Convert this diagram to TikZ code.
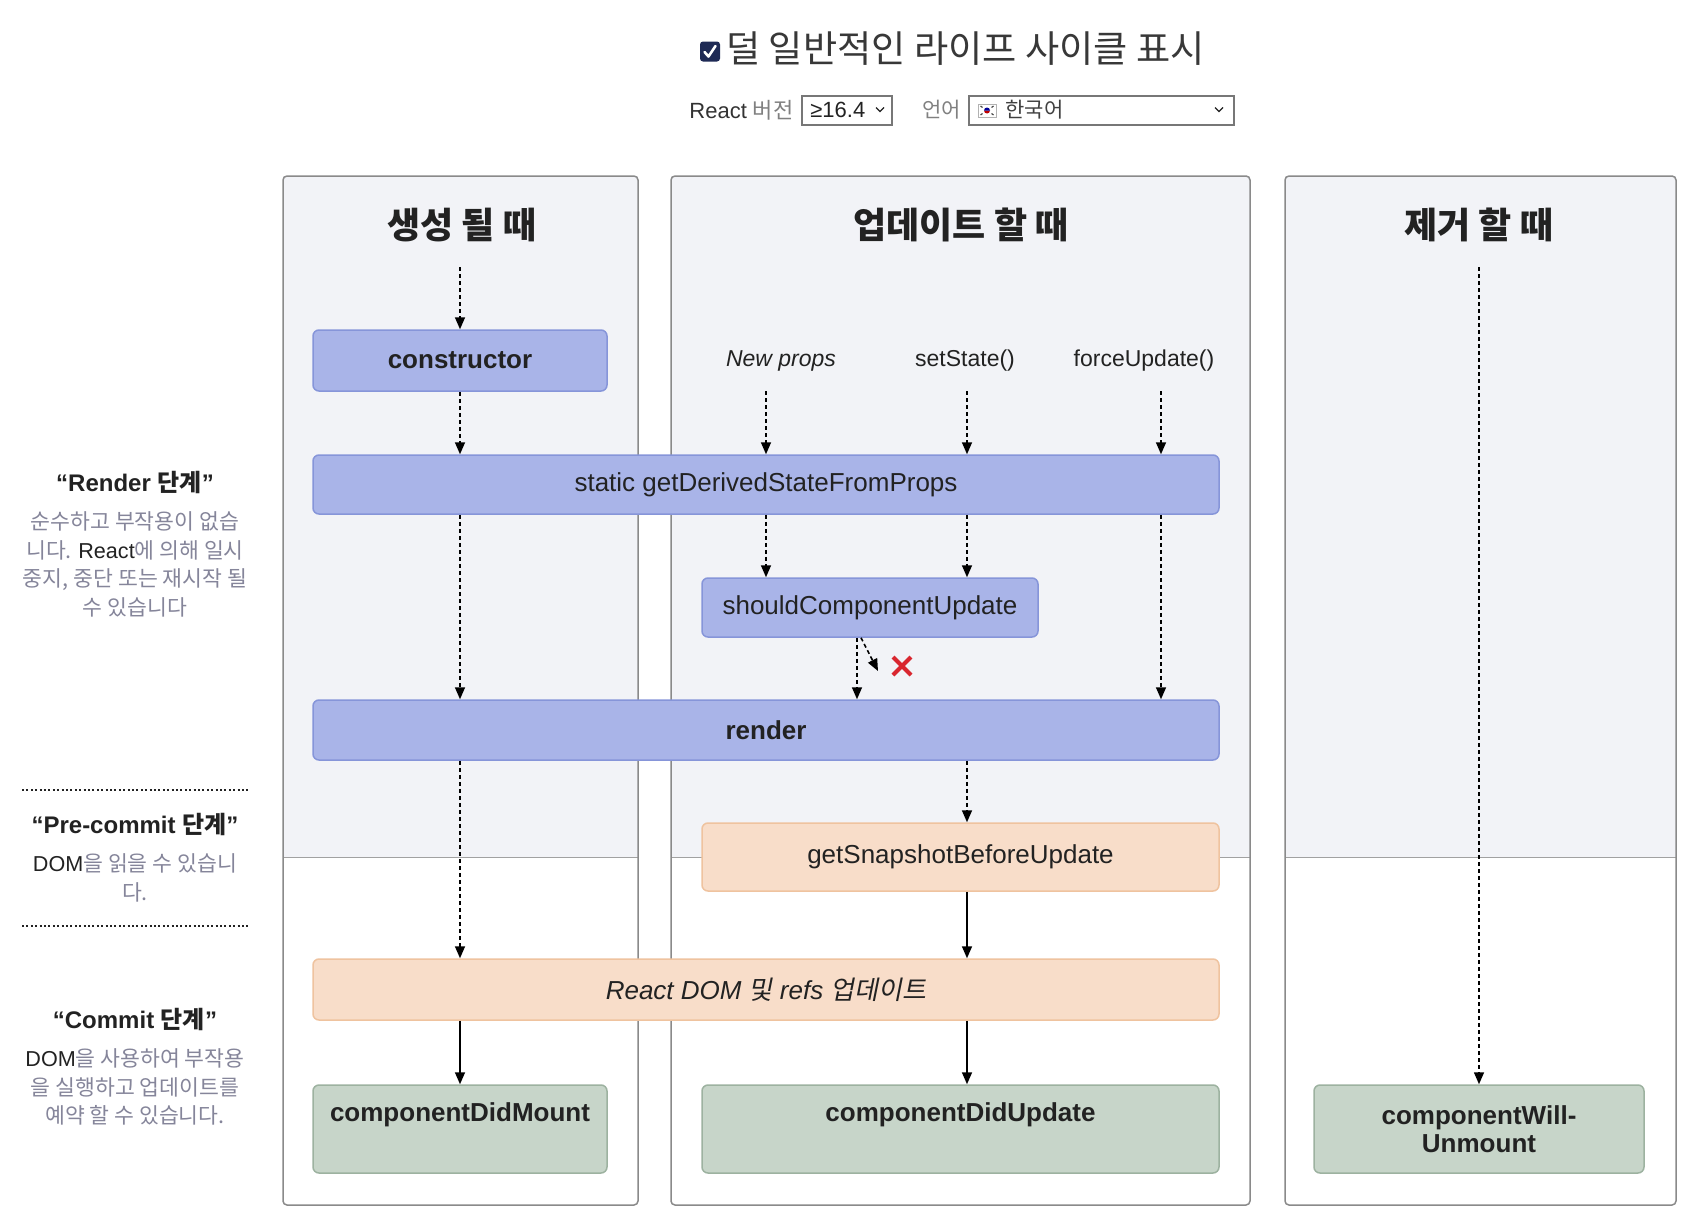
\documentclass[tikz,border=0pt]{standalone}
\usepackage{fontspec}
\setmainfont{Liberation Sans}
\newfontfamily\kr{Noto Sans CJK KR}
\newfontfamily\krit{Noto Sans CJK KR}[FakeSlant=0.2]
\usetikzlibrary{arrows.meta}
\newcommand\K[1]{{\kr #1}}
\definecolor{colbg}{HTML}{F2F3F7}
\definecolor{colline}{HTML}{8A8A8A}
\definecolor{bluefill}{HTML}{A9B4E8}
\definecolor{blueline}{HTML}{8695D9}
\definecolor{orfill}{HTML}{F8DDC9}
\definecolor{orline}{HTML}{EFC39F}
\definecolor{grfill}{HTML}{C7D5C9}
\definecolor{grline}{HTML}{9DB2A0}
\definecolor{txt}{HTML}{222222}
\definecolor{desc}{HTML}{85859A}
\definecolor{xred}{HTML}{D9262F}
\definecolor{navy}{HTML}{1E2A55}
\definecolor{ddline}{HTML}{777777}
\tikzset{
  box/.style={draw, line width=0.75pt, rounded corners=3pt, inner sep=0pt, text=txt},
  bluebox/.style={box, fill=bluefill, draw=blueline},
  orbox/.style={box, fill=orfill, draw=orline},
  grbox/.style={box, fill=grfill, draw=grline},
  da/.style={draw=black, line width=0.8pt, dash pattern=on 2pt off 1.5pt, -{Triangle[width=5pt,length=6pt]}},
  sa/.style={draw=black, line width=0.8pt, -{Triangle[width=5pt,length=6pt]}},
  colframe/.style={draw=colline, line width=0.75pt, rounded corners=2pt},
  coltitle/.style={font=\kr\bfseries\fontsize{18}{21}\selectfont, text=txt},
  lbl/.style={font=\fontsize{13}{15}\selectfont, text=txt},
  blbl/.style={font=\bfseries\fontsize{13}{15}\selectfont, text=txt},
  trig/.style={font=\fontsize{11.5}{14}\selectfont, text=txt},
  phase/.style={font=\bfseries\fontsize{12}{14}\selectfont, text=txt},
  phdesc/.style={font=\kr\fontsize{10.8}{14.25}\selectfont, text=desc, align=center, inner sep=0pt},
  sep/.style={line width=1pt, dash pattern=on 1pt off 1.2pt, draw=txt},
  dd/.style={draw=ddline, line width=0.75pt, fill=white, inner sep=0pt},
  chev/.style={draw=txt, line width=0.6pt},
}
\begin{document}
\begin{tikzpicture}[x=0.5pt,y=-0.5pt]
\useasboundingbox (0,0) rectangle (1694,1232);
\fill[white] (0,0) rectangle (1694,1232);

% ---- header ----
\node[fill=navy, rounded corners=1.5pt, minimum size=10pt, inner sep=0pt] (cb) at (710,51.5) {};
\draw[white, line width=1.3pt, line cap=round, line join=round] (704.5,52) -- (708.5,56.5) -- (715.5,46);
\node[anchor=west, inner sep=0pt, font=\kr\fontsize{18.6}{22}\selectfont, text=black!78] (ttl) at (726,49) {덜 일반적인 라이프 사이클 표시};

\node[anchor=west, inner sep=0pt, font=\fontsize{11}{13}\selectfont, text=black!80] (rv) at (689,110) {React \K{\color{black!50}버전}};
\node[dd, minimum width=45pt, minimum height=14.5pt] (dd1) at (847,110.5) {};
\node[anchor=west, inner sep=0pt, font=\fontsize{11}{13}\selectfont, text=txt] (dd1t) at (810,110) {≥16.4};
\draw[chev] (876,107.5) -- (880,111.5) -- (884,107.5);
\node[anchor=west, inner sep=0pt, font=\kr\fontsize{10.5}{13}\selectfont, text=black!50] (lang) at (922,110) {언어};
\node[dd, minimum width=132.5pt, minimum height=14.5pt] (dd2) at (1101.5,110.5) {};
\node[draw=black!30, fill=white, line width=0.4pt, minimum width=9pt, minimum height=6.5pt, inner sep=0pt] (flag) at (987,110.5) {};
\fill[red!75!black] (990,110.5) arc (0:180:3);
\fill[blue!60!black] (984,110.5) arc (180:360:3);
\draw[black!70, line width=0.6pt] (980.5,106) -- (982.5,107.5) (980.5,115) -- (982.5,113.5) (993.5,106) -- (991.5,107.5) (993.5,115) -- (991.5,113.5);
\node[anchor=west, inner sep=0pt, font=\kr\fontsize{10.5}{13}\selectfont, text=black!75] (langv) at (1005,110) {한국어};
\draw[chev] (1215,107.5) -- (1219,111.5) -- (1223,107.5);

% ---- columns ----
\foreach \xa/\xb in {283/638, 671/1250, 1285/1676}{
  \fill[colbg] (\xa,176) rectangle (\xb,857);
  \draw[colline!80, line width=0.5pt] (\xa,857) -- (\xb,857);
  \draw[colframe] (\xa,176) rectangle (\xb,1205);
}
\node[coltitle] (t1) at (462,225) {생성 될 때};
\node[coltitle] (t2) at (961,225) {업데이트 할 때};
\node[coltitle] (t3) at (1479,225) {제거 할 때};

% ---- boxes ----
\node[bluebox, blbl, minimum width=147pt, minimum height=30.5pt] (ctor) at (460,360.5) {constructor};
\node[bluebox, lbl, minimum width=453pt, minimum height=29.5pt] (gdsfp) at (766,484.5) {static getDerivedStateFromProps};
\node[bluebox, lbl, minimum width=168pt, minimum height=29.5pt] (scu) at (870,607.5) {shouldComponentUpdate};
\node[bluebox, blbl, minimum width=453pt, minimum height=30pt] (render) at (766,730) {render};
\node[orbox, lbl, minimum width=258.5pt, minimum height=34pt] (gsbu) at (960.5,857) {getSnapshotBeforeUpdate};
\node[orbox, lbl, minimum width=453pt, minimum height=30.5pt] (rdom) at (766,989.5) {\itshape React DOM {\krit 및} refs {\krit 업데이트}};
\node[grbox, minimum width=147pt, minimum height=44pt] (cdm) at (460,1129) {};
\node[grbox, minimum width=258.5pt, minimum height=44pt] (cdu) at (960.5,1129) {};
\node[grbox, blbl, align=center, minimum width=165pt, minimum height=44pt] (cwu) at (1479,1129) {componentWill-\\[-1pt]Unmount};
\node[blbl, inner sep=0pt] (cdmt) at (460,1115) {componentDidMount};
\node[blbl, inner sep=0pt] (cdut) at (960.5,1115) {componentDidUpdate};

% ---- triggers ----
\node[trig, font=\itshape\fontsize{11.5}{14}\selectfont] (np) at (781,361) {New props};
\node[trig] (ss) at (965,361) {setState()};
\node[trig] (fu) at (1144,361) {forceUpdate()};

% ---- connector anchors ----
\coordinate (s1) at (460,267);
\coordinate (s3) at (1479,267);
\coordinate (a1) at (766,391);
\coordinate (a2) at (967,391);
\coordinate (a3) at (1161,391);
\coordinate (xs) at (857,0);
\coordinate (xd) at (861,0);
\coordinate (dg) at (878,671);

% left column
\draw[da] (s1) -- (ctor.north);
\draw[da] (ctor.south) -- (ctor.south |- gdsfp.north);
\draw[da] (ctor.south |- gdsfp.south) -- (ctor.south |- render.north);
\draw[da] (ctor.south |- render.south) -- (ctor.south |- rdom.north);
\draw[sa] (ctor.south |- rdom.south) -- (cdm.north);

% middle column
\draw[da] (a1) -- (a1 |- gdsfp.north);
\draw[da] (a2) -- (a2 |- gdsfp.north);
\draw[da] (a3) -- (a3 |- gdsfp.north);
\draw[da] (gdsfp.south -| a1) -- (scu.north -| a1);
\draw[da] (gdsfp.south -| a2) -- (scu.north -| a2);
\draw[da] (gdsfp.south -| a3) -- (render.north -| a3);
\draw[da] (scu.south -| xs) -- (render.north -| xs);
\draw[da] (scu.south -| xd) -- (dg);
\draw[da] (render.south -| a2) -- (gsbu.north -| a2);
\draw[sa] (gsbu.south -| a2) -- (rdom.north -| a2);
\draw[sa] (rdom.south -| a2) -- (cdu.north -| a2);

% right column
\draw[da] (s3) -- (cwu.north);

% red cross
\draw[xred, line width=2pt] (893,657) -- (911,675) (911,657) -- (893,675);

% ---- phase descriptions ----
\node[phase] (ph1) at (135,482) {“Render \K{단계}”};
\node[phdesc] (ph1d) at (135,564.5) {순수하고 부작용이 없습\\니다. {\fontspec{Liberation Sans}\color{txt}React}에 의해 일시\\중지, 중단 또는 재시작 될\\수 있습니다};
\coordinate (l1a) at (22,790);
\coordinate (l1b) at (250,790);
\draw[sep] (l1a) -- (l1b);
\node[phase] (ph2) at (135,824) {“Pre-commit \K{단계}”};
\node[phdesc] (ph2d) at (135,878) {{\fontspec{Liberation Sans}\color{txt}DOM}을 읽을 수 있습니\\다.};
\coordinate (l2a) at (22,926);
\coordinate (l2b) at (250,926);
\draw[sep] (l2a) -- (l2b);
\node[phase] (ph3) at (135,1019) {“Commit \K{단계}”};
\node[phdesc] (ph3d) at (135,1087) {{\fontspec{Liberation Sans}\color{txt}DOM}을 사용하여 부작용\\을 실행하고 업데이트를\\예약 할 수 있습니다.};
\end{tikzpicture}
\end{document}
